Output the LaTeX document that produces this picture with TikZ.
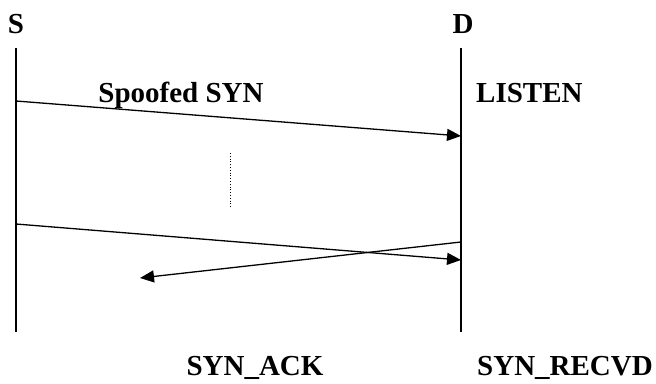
\documentclass[tikz,border=0pt]{standalone}
\usepackage{fontspec}
\setmainfont{Liberation Serif}
\usetikzlibrary{arrows.meta}
\begin{document}
\begin{tikzpicture}[x=1pt,y=-1pt,
  lbl/.style={font=\fontsize{29}{30}\selectfont\bfseries, inner sep=0pt, anchor=base},
  lifeline/.style={line width=1.4pt},
  msg/.style={line width=1.3pt, -{Triangle[length=14pt,width=12pt]}}]
  \useasboundingbox (0,0) rectangle (656,383);
  % host labels
  \node[lbl] (S) at (16,33) {S};
  \node[lbl] (D) at (463,33) {D};
  % lifelines
  \coordinate (stop) at (16,48);   \coordinate (sbot) at (16,332);
  \coordinate (dtop) at (461,48);  \coordinate (dbot) at (461,332);
  \draw[lifeline] (stop) -- (sbot);
  \draw[lifeline] (dtop) -- (dbot);
  % message end points
  \coordinate (s1) at (16,101);  \coordinate (d1) at (461,136);
  \coordinate (s2) at (16,224);  \coordinate (d2) at (461,260);
  \coordinate (d3) at (461,242); \coordinate (a3) at (140,278);
  \draw[msg] (s1) -- (d1);
  \draw[msg] (s2) -- (d2);
  \draw[msg] (d3) -- (a3);
  % gap between the two SYNs
  \coordinate (gtop) at (230,153); \coordinate (gbot) at (230,208);
  \draw[line width=0.8pt, dotted] (gtop) -- (gbot);
  % labels
  \node[lbl] (spoof) at (181,102) {Spoofed SYN};
  \node[lbl, anchor=base west] (listen) at (476,102) {LISTEN};
  \node[lbl] (synack) at (255,375) {SYN\_ACK};
  \node[lbl, anchor=base west] (recvd) at (477,375) {SYN\_RECVD};
\end{tikzpicture}
\end{document}
